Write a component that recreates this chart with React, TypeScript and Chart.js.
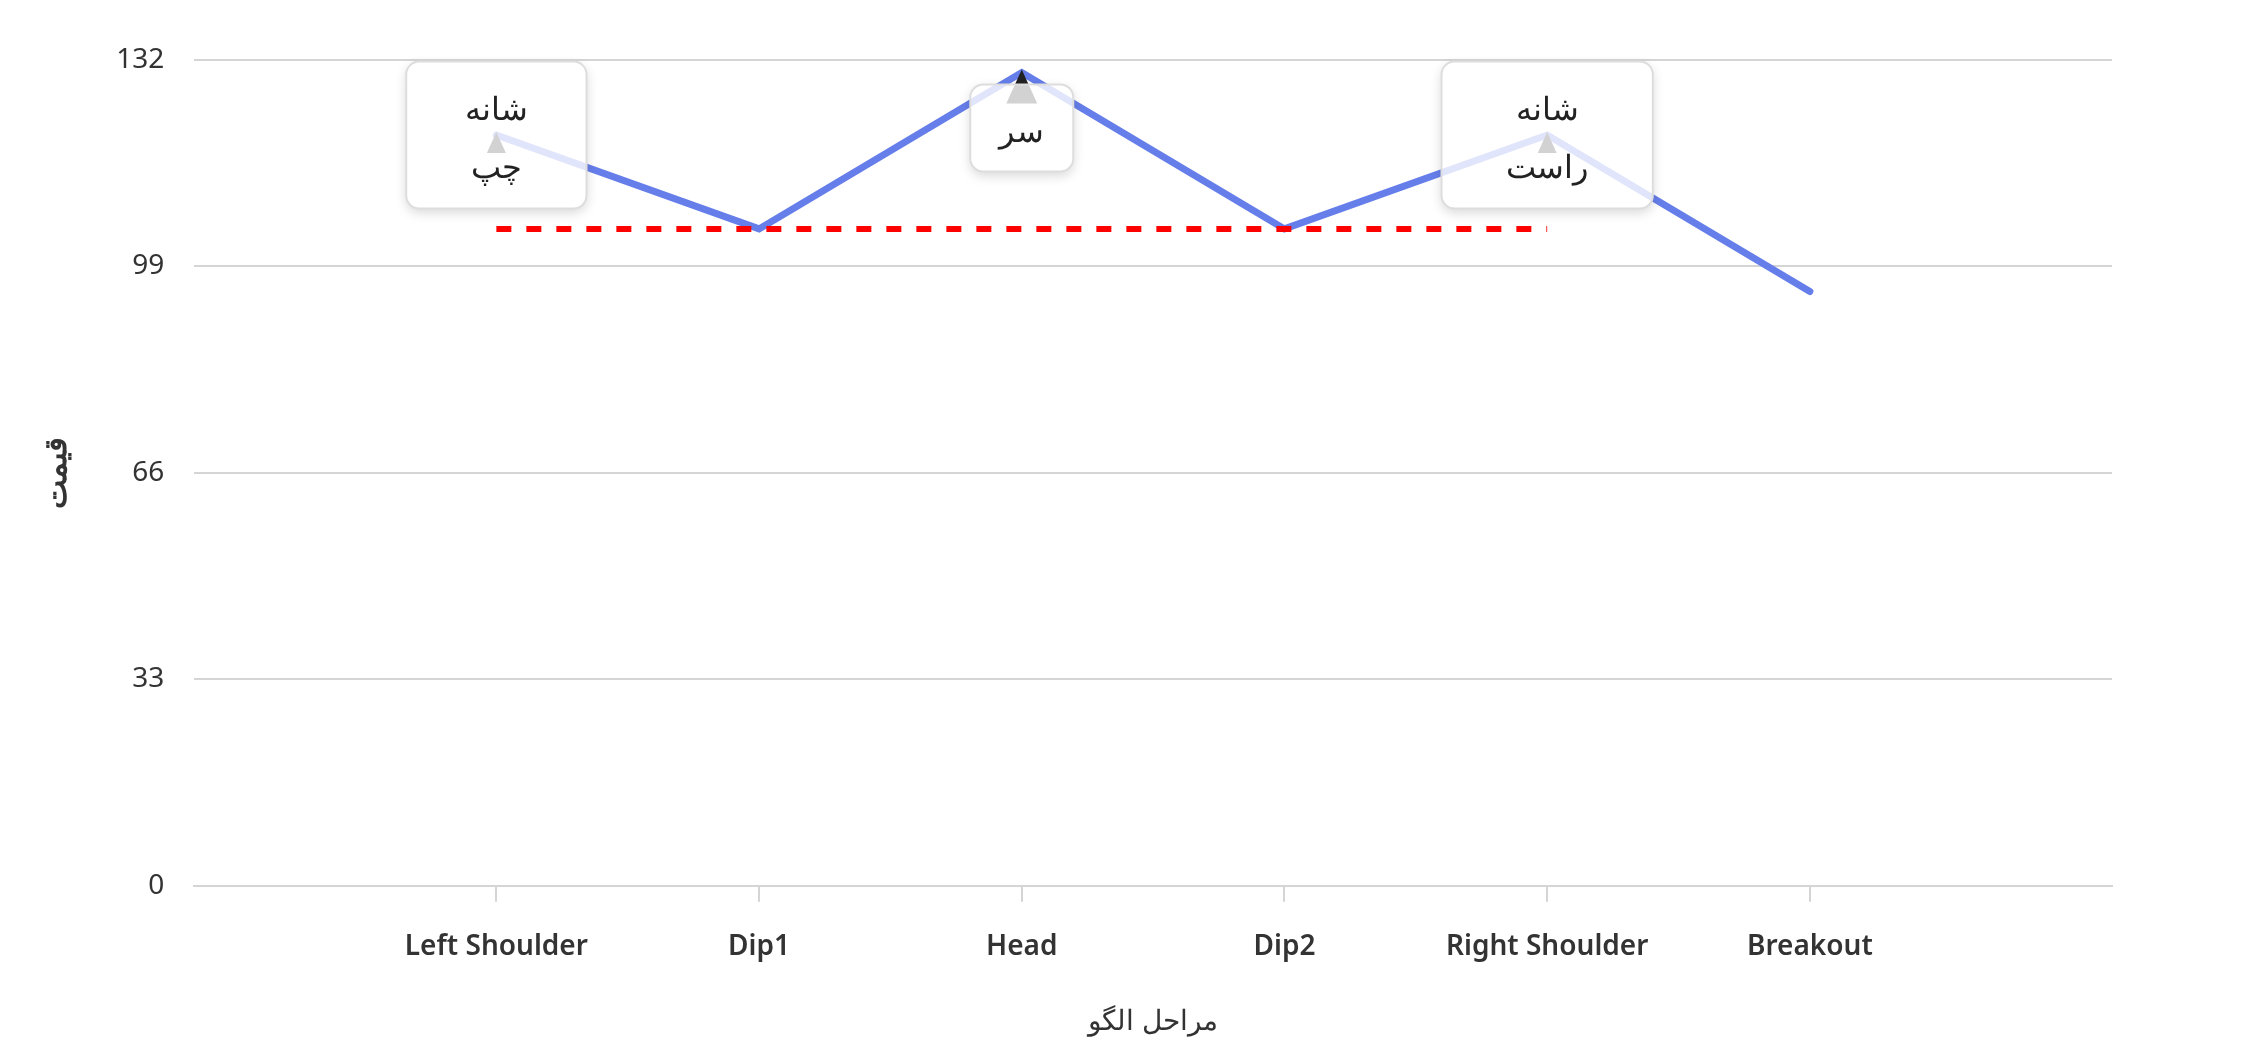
import React, { useEffect, useRef } from 'react';
import Chart from 'chart.js/auto';

const stageLabels = ['Left Shoulder', 'Dip1', 'Head', 'Dip2', 'Right Shoulder', 'Breakout'];
const priceValues = [120, 105, 130, 105, 120, 95];
const necklineValues = [105, 105, 105, 105, 105, null];
const yTicks = [0, 33, 66, 99, 132];
const markerIndices = [0, 2, 4];
const markerTexts = [['شانه', 'چپ'], ['سر'], ['شانه', 'راست']];

const FONT = "'Noto Sans', sans-serif";

const patternLabels = {
  id: 'patternLabels',
  afterDatasetsDraw(chart: any) {
    const { ctx, chartArea, scales, width, height } = chart;
    const x = scales.x;
    const y = scales.y;
    const peak = Math.max(...priceValues);
    ctx.save();
    ctx.font = `32px ${FONT}`;
    markerIndices.forEach((idx, k) => {
      const lines = markerTexts[k];
      const px = x.getPixelForValue(idx);
      const py = y.getPixelForValue(priceValues[idx]);
      const mw = priceValues[idx] === peak ? 31 : 19;
      const mh = mw * 1.1;

      // marker sits under the translucent box
      ctx.fillStyle = '#222';
      ctx.beginPath();
      ctx.moveTo(px, py - 3);
      ctx.lineTo(px + mw / 2, py - 3 + mh);
      ctx.lineTo(px - mw / 2, py - 3 + mh);
      ctx.closePath();
      ctx.fill();

      const w = ctx.measureText(lines.join(' ')).width + 58;
      const h = 87 + (lines.length - 1) * 60;
      let top = py - h / 2;
      if (top < chartArea.top - 8) top = py + 12;
      const left = px - w / 2;

      // shadow only outside the box, so the box stays clean white
      ctx.save();
      ctx.beginPath();
      ctx.rect(0, 0, width, height);
      ctx.roundRect(left, top, w, h, 13);
      ctx.clip('evenodd');
      ctx.shadowColor = 'rgba(0,0,0,0.16)';
      ctx.shadowBlur = 12;
      ctx.shadowOffsetX = 10000;
      ctx.shadowOffsetY = 4;
      ctx.fillStyle = '#fff';
      ctx.beginPath();
      ctx.roundRect(left - 10000, top, w, h, 13);
      ctx.fill();
      ctx.restore();

      ctx.fillStyle = 'rgba(255,255,255,0.8)';
      ctx.beginPath();
      ctx.roundRect(left, top, w, h, 13);
      ctx.fill();

      ctx.strokeStyle = '#dddddd';
      ctx.lineWidth = 2;
      ctx.stroke();

      ctx.fillStyle = '#222';
      ctx.textAlign = 'center';
      ctx.textBaseline = 'middle';
      const cy = top + h / 2 + 5;
      lines.forEach((line, i) => {
        const ly = cy + (i - (lines.length - 1) / 2) * 58;
        ctx.fillText(line, px, ly);
      });
    });
    ctx.restore();
  },
};

const App: React.FC = () => {
  const chartRef = useRef<HTMLCanvasElement>(null);
  const chartInstance = useRef<Chart | null>(null);

  useEffect(() => {
    if (chartInstance.current) {
      chartInstance.current.destroy();
    }
    const ctx = chartRef.current?.getContext('2d');
    if (!ctx) return;

    chartInstance.current = new Chart(ctx, {
      type: 'line',
      data: {
        datasets: [
          {
            label: 'neckline',
            data: necklineValues.map((v, i) => ({ x: i, y: v })),
            borderColor: '#ff0000',
            borderWidth: 6,
            borderDash: [15, 15],
            pointRadius: 0,
            order: 0,
          },
          {
            label: 'price',
            data: priceValues.map((v, i) => ({ x: i, y: v })),
            borderColor: '#667eea',
            borderWidth: 7,
            borderCapStyle: 'round',
            pointRadius: 0,
            tension: 0,
            order: 1,
          },
        ],
      },
      options: {
        animation: false,
        responsive: true,
        maintainAspectRatio: false,
        layout: { padding: { top: 52, right: 124, left: 6, bottom: 0 } },
        plugins: {
          legend: { display: false },
          tooltip: { enabled: false },
        },
        scales: {
          x: {
            type: 'linear',
            min: -1.15,
            max: 6.15,
            afterBuildTicks: (scale: any) => {
              scale.ticks = stageLabels.map((_, i) => ({ value: i }));
            },
            ticks: {
              callback: (value: any) => stageLabels[value] ?? '',
              color: '#333',
              font: { family: FONT, size: 28, weight: '600' },
              padding: 28,
              maxRotation: 0,
              autoSkip: false,
            },
            grid: {
              drawOnChartArea: false,
              tickLength: 16,
              color: '#d5d5d5',
              lineWidth: 2,
            },
            border: { color: '#d5d5d5', width: 2 },
            title: {
              display: true,
              text: 'مراحل الگو',
              color: '#333',
              font: { family: FONT, size: 28 },
              padding: { top: 14, bottom: 3 },
            },
          },
          y: {
            min: 0,
            max: 132,
            afterBuildTicks: (scale: any) => {
              scale.ticks = yTicks.map((v) => ({ value: v }));
            },
            ticks: {
              color: '#333',
              font: { family: FONT, size: 28 },
              padding: 30,
            },
            grid: {
              drawTicks: false,
              color: '#d5d5d5',
              lineWidth: 2,
            },
            border: { display: false },
            title: {
              display: true,
              text: 'قیمت',
              color: '#333',
              font: { family: FONT, size: 31, weight: '600' },
              padding: { top: 25, bottom: 10 },
            },
          },
        },
      },
      plugins: [patternLabels],
    });

    return () => {
      if (chartInstance.current) {
        chartInstance.current.destroy();
        chartInstance.current = null;
      }
    };
  }, []);

  return (
    <div style={{ position: 'relative', width: '100%', height: '1034px' }}>
      <canvas ref={chartRef} />
    </div>
  );
};

export default App;
